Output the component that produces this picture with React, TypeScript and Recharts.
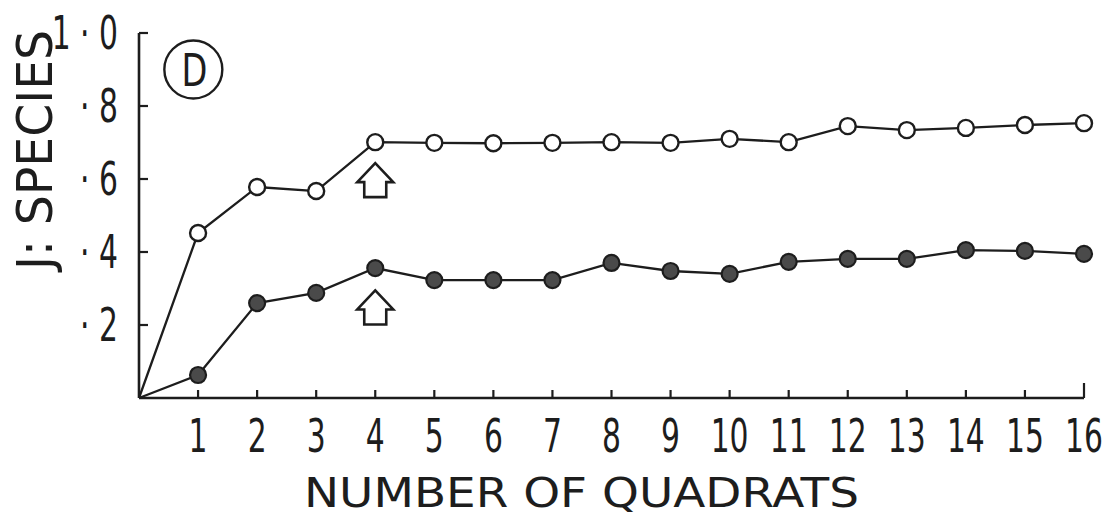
import { LineChart, Line, XAxis, YAxis, Label, ReferenceDot } from "recharts"

// number of quadrats sampled
const quadrats = [0, 1, 2, 3, 4, 5, 6, 7, 8, 9, 10, 11, 12, 13, 14, 15, 16]
// J' evenness, open circles (upper curve)
const openJ = [0, 0.452, 0.578, 0.567, 0.701, 0.699, 0.698, 0.699, 0.701, 0.699, 0.71, 0.701, 0.745, 0.734, 0.74, 0.748, 0.753]
// J' evenness, filled circles (lower curve)
const filledJ = [0, 0.063, 0.26, 0.288, 0.356, 0.323, 0.323, 0.323, 0.37, 0.348, 0.34, 0.373, 0.381, 0.381, 0.405, 0.403, 0.395]

const xTicks = [1, 2, 3, 4, 5, 6, 7, 8, 9, 10, 11, 12, 13, 14, 15, 16]
const yTicks = [0.2, 0.4, 0.6, 0.8, 1.0]
const yTickLabels = ["· 2", "· 4", "· 6", "· 8", "1 · 0"]

// annotation anchors: panel badge and the two arrows under quadrat 4
const badge = { x: 0.92, y: 0.9, text: "D" }
const arrows = [
    { x: 4, y: 0.597 },
    { x: 4, y: 0.248 },
]

const data = quadrats.map((q, i) => ({ q, open: openJ[i], filled: filledJ[i] }))

const INK = "#1d1d1d"
const FONT = "'DejaVu Sans Condensed', 'DejaVu Sans', sans-serif"
const WIDE = "'DejaVu Sans', sans-serif"
const SQUEEZE = 0.72

function XTick(props: any) {
    const { x, y, payload } = props
    const len = payload.value === 16 ? 15 : 8
    return (
        <g>
            <line x1={x} y1={y} x2={x} y2={y - len} stroke={INK} strokeWidth={2.2} />
            <text
                transform={`translate(${x},${y + 54}) scale(${SQUEEZE},1)`}
                textAnchor="middle"
                fontFamily={FONT}
                fontSize={46}
                fill={INK}
            >
                {payload.value}
            </text>
        </g>
    )
}

function YTick(props: any) {
    const { x, y, payload } = props
    const idx = yTicks.indexOf(payload.value)
    return (
        <g>
            <line x1={x} y1={y} x2={x + 9} y2={y} stroke={INK} strokeWidth={2.2} />
            <text
                transform={`translate(${x - 21},${y + 16}) scale(${SQUEEZE},1)`}
                textAnchor="end"
                fontFamily={FONT}
                fontSize={46}
                fill={INK}
                style={{ whiteSpace: "pre" }}
            >
                {yTickLabels[idx]}
            </text>
        </g>
    )
}

function OpenDot(props: any) {
    const { cx, cy, index } = props
    if (index === 0) return <g key={`o${index}`} />
    return <circle key={`o${index}`} cx={cx} cy={cy} r={8} fill="#fff" stroke={INK} strokeWidth={2.4} />
}

function FilledDot(props: any) {
    const { cx, cy, index } = props
    if (index === 0) return <g key={`f${index}`} />
    return <circle key={`f${index}`} cx={cx} cy={cy} r={8} fill="#4a4a4a" stroke={INK} strokeWidth={2.2} />
}

function Badge(props: any) {
    const { cx, cy } = props
    return (
        <g>
            <circle cx={cx} cy={cy} r={29} fill="#fff" stroke={INK} strokeWidth={2.4} />
            <text
                transform={`translate(${cx + 1},${cy + 16}) scale(0.85,1)`}
                textAnchor="middle"
                fontFamily={FONT}
                fontSize={44}
                fill={INK}
            >
                {badge.text}
            </text>
        </g>
    )
}

function Arrow(props: any) {
    const { cx, cy } = props
    const pts = [
        [cx, cy - 17],
        [cx + 18, cy + 2],
        [cx + 11, cy + 2],
        [cx + 11, cy + 17],
        [cx - 11, cy + 17],
        [cx - 11, cy + 2],
        [cx - 18, cy + 2],
    ]
    return <polygon points={pts.map((p) => p.join(",")).join(" ")} fill="#fff" stroke={INK} strokeWidth={2.6} strokeLinejoin="miter" />
}

export default function App() {
    return (
        <div style={{ position: "absolute", left: 0, top: 0, background: "#fff" }}>
            <LineChart width={1105} height={519} data={data} margin={{ top: 33, right: 21, bottom: 0, left: 0 }}>
                <XAxis
                    dataKey="q"
                    type="number"
                    domain={[0, 16]}
                    ticks={xTicks}
                    interval={0}
                    height={121}
                    tickSize={0}
                    tickMargin={0}
                    tickLine={false}
                    axisLine={{ stroke: INK, strokeWidth: 2.6 }}
                    tick={<XTick />}
                >
                    <Label
                        content={(p: any) => {
                            const vb = p.viewBox
                            return (
                                <text
                                    x={vb.x + vb.width / 2 - 30}
                                    y={507}
                                    textAnchor="middle"
                                    fontFamily={WIDE}
                                    fontSize={40}
                                    fill={INK}
                                    textLength={555}
                                    lengthAdjust="spacingAndGlyphs"
                                >
                                    NUMBER OF QUADRATS
                                </text>
                            )
                        }}
                    />
                </XAxis>
                <YAxis
                    type="number"
                    domain={[0, 1]}
                    ticks={yTicks}
                    interval={0}
                    width={139}
                    tickSize={0}
                    tickMargin={0}
                    tickLine={false}
                    axisLine={{ stroke: INK, strokeWidth: 2.6 }}
                    tick={<YTick />}
                >
                    <Label
                        content={() => (
                            <text
                                x={52}
                                y={150}
                                transform="rotate(-90, 52, 150)"
                                textAnchor="middle"
                                fontFamily={FONT}
                                fontSize={49}
                                fill={INK}
                                textLength={240}
                                lengthAdjust="spacingAndGlyphs"
                            >
                                J: SPECIES
                            </text>
                        )}
                    />
                </YAxis>
                <Line
                    dataKey="open"
                    type="linear"
                    stroke={INK}
                    strokeWidth={2.3}
                    dot={OpenDot}
                    activeDot={false}
                    isAnimationActive={false}
                />
                <Line
                    dataKey="filled"
                    type="linear"
                    stroke={INK}
                    strokeWidth={2.3}
                    dot={FilledDot}
                    activeDot={false}
                    isAnimationActive={false}
                />
                <ReferenceDot x={badge.x} y={badge.y} shape={Badge} />
                {arrows.map((a, i) => (
                    <ReferenceDot key={i} x={a.x} y={a.y} shape={Arrow} />
                ))}
            </LineChart>
        </div>
    )
}
